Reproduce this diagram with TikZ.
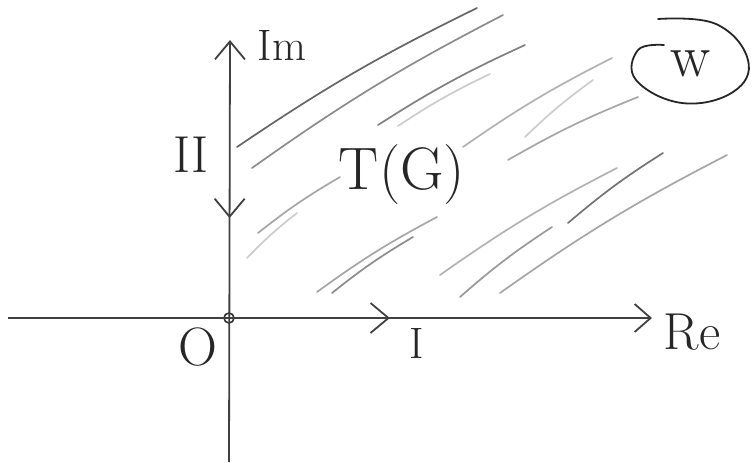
\documentclass[tikz,border=0pt]{standalone}
\usepackage{tikz}
\usetikzlibrary{
    arrows.meta,
    decorations.markings
}

\begin{document}
\begin{tikzpicture}[
    x=0.5pt, y=-0.5pt,
    axis/.style={black!75,line width=0.9pt},
    hand/.style={font=\fontsize{#1}{#1}\selectfont,text=black!85,inner sep=0pt},
    hatch/.style={line width=0.85pt,line cap=round,draw=black!#1},
    origin dot/.style={circle,draw=black!80,line width=0.8pt,minimum size=5pt,inner sep=0pt},
    mid tip/.style={postaction={decorate},decoration={markings,
        mark=at position #1 with {\arrow{Straight Barb[length=9pt,width=15pt,line width=0.9pt]}}}}
]
    \useasboundingbox (0,0) rectangle (755,462);

    % Shaded region: loose diagonal pencil strokes.
    \foreach \xa/\ya/\xb/\yb/\shade in {
        237/147/477/8/60, 252/168/503/15/45, 378/125/525/45/50,
        398/126/490/74/20, 463/147/612/58/30, 508/160/638/97/35,
        525/137/593/80/20, 258/233/340/177/35, 247/258/297/213/20,
        317/292/437/217/35, 332/293/413/237/45, 440/275/617/168/30,
        460/297/552/227/40, 568/223/663/153/55, 500/293/727/155/35} {
        \draw[hatch=\shade] (\xa,\ya) to[bend left=4] (\xb,\yb);
    }

    % Axes.
    \node[origin dot] (orig) at (229,318) {};
    \coordinate (xl) at (8,318);
    \coordinate (xr) at (652,318);
    \coordinate (yt) at (230,40);
    \coordinate (yb) at (229,462);

    \draw[axis,-{Straight Barb[length=8pt,width=14pt,line width=0.9pt]},mid tip=0.593] (xl) -- (xr);
    \draw[axis,{Straight Barb[length=9pt,width=15pt,line width=0.9pt]}-,mid tip=0.422] (yt) -- (yb);

    % Labels.
    \node[hand=22] (lblIm) at (282,45) {Im};
    \node[hand=26] (lblRe) at (692,332) {Re};
    \node[hand=27] (lblO)  at (198,347) {O};
    \node[hand=22] (lblI)  at (417,343) {I};
    \node[hand=26] (lblII) at (191,155) {II};
    \node[hand=30] (lblT)  at (402,175) {T(G)};
    \node[hand=30] (lblw)  at (691,64) {w};

    % Loop drawn round w.
    \draw[black!85,line width=0.9pt,line cap=round] plot[smooth,tension=0.7] coordinates {
        (664,45) (638,50) (636,80) (682,103) (733,92) (748,60) (716,24) (658,19)};
\end{tikzpicture}
\end{document}
